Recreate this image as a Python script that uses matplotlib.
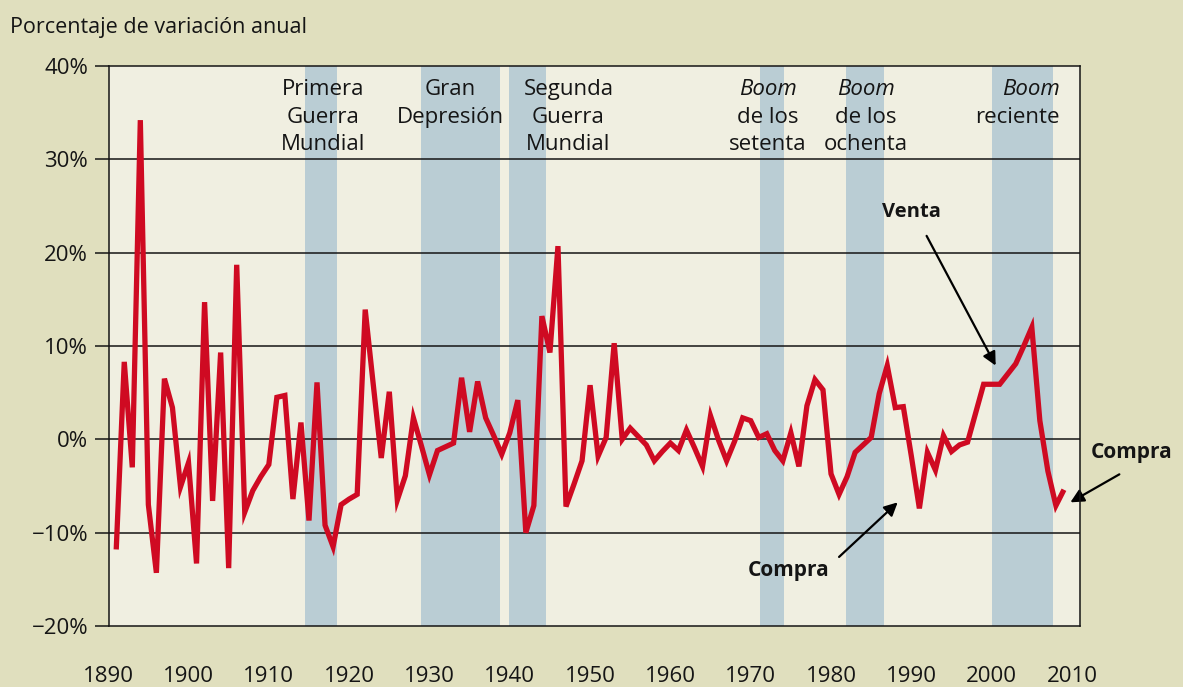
import numpy as np
import matplotlib
matplotlib.use("Agg")
import matplotlib.pyplot as plt
from matplotlib.transforms import ScaledTranslation

# ---------------- data ----------------
start_year = 1890
annual_change = [
    -11.8, 8.3, -3.0, 34.2, -7.0, -14.3, 6.5, 3.4, -5.1, -2.5,      # 1890-1899
    -13.3, 14.7, -6.6, 9.3, -13.8, 18.7, -7.8, -5.5, -4.0, -2.7,    # 1900-1909
    4.5, 4.7, -6.4, 1.8, -8.7, 6.1, -9.2, -11.5, -7.0, -6.4,        # 1910-1919
    -5.9, 13.9, 5.9, -2.0, 5.1, -6.5, -3.9, 2.3, -0.7, -3.8,        # 1920-1929
    -1.2, -0.8, -0.4, 6.6, 0.8, 6.2, 2.3, 0.4, -1.6, 0.7,           # 1930-1939
    4.2, -10.0, -7.1, 13.2, 9.3, 20.7, -7.2, -4.8, -2.3, 5.8,       # 1940-1949
    -1.8, 0.2, 10.3, 0.0, 1.2, 0.3, -0.6, -2.3, -1.3, -0.4,         # 1950-1959
    -1.2, 1.0, -0.9, -2.9, 2.5, -0.1, -2.3, -0.2, 2.3, 2.0,         # 1960-1969
    0.2, 0.6, -1.2, -2.3, 0.7, -2.9, 3.6, 6.4, 5.3, -3.7,           # 1970-1979
    -5.9, -4.0, -1.4, -0.6, 0.2, 4.9, 7.9, 3.4, 3.5, -1.8,          # 1980-1989
    -7.4, -1.4, -3.3, 0.4, -1.3, -0.6, -0.3, 2.8, 5.9, 5.9,         # 1990-1999
    5.9, 7.0, 8.1, 10.0, 12.0, 2.0, -3.4, -7.1, -5.4,               # 2000-2008
]
years = np.arange(start_year, start_year + len(annual_change))

# shaded periods (start, end) and their label lines
period_spans = [(1913.5, 1917.5), (1927.9, 1937.8), (1938.9, 1943.5),
                (1970.2, 1973.2), (1980.9, 1985.6), (1999.0, 2006.7)]
period_labels = [
    ["Primera", "Guerra", "Mundial"],
    ["Gran", "Depresión"],
    ["Segunda", "Guerra", "Mundial"],
    ["Boom", "de los", "setenta"],
    ["Boom", "de los", "ochenta"],
    ["Boom", "reciente"],
]
label_x = [1915.7, 1931.6, 1946.3, 1971.1, 1983.3, 2007.5]
label_align = ["center", "center", "center", "center", "center", "right"]

y_ticks = [-20, -10, 0, 10, 20, 30, 40]
y_ticklabels = ["\u221220%", "\u221210%", "0%", "10%", "20%", "30%", "40%"]
x_ticks = list(range(1890, 2011, 10))

# ---------------- style ----------------
OUTER = "#e0dfbe"
INNER = "#f0efe1"
BAND = "#bacdd4"
RED = "#cf0a22"
INK = "#151515"
FONT = "Open Sans"

plt.rcParams["font.family"] = [FONT, "DejaVu Sans"]

W, H, DPI = 1183, 687, 100
fig = plt.figure(figsize=(W / DPI, H / DPI), dpi=DPI, facecolor=OUTER)
ax = fig.add_axes([109 / W, 1 - 626 / H, (1080 - 109) / W, (626 - 66) / H])
ax.set_facecolor(INNER)

ax.set_xlim(1889.1, 2009.0)
ax.set_ylim(-20, 40)

for (a, b) in period_spans:
    ax.axvspan(a, b, color=BAND, lw=0, zorder=1)

for v in y_ticks[1:-1]:
    ax.axhline(v, color=INK, lw=1.1, zorder=2)

ax.plot(years, annual_change, color=RED, lw=3.8, zorder=3,
        solid_joinstyle="miter", solid_capstyle="butt")

for sp in ax.spines.values():
    sp.set_color(INK)
    sp.set_linewidth(1.1)
    sp.set_zorder(4)

ax.set_yticks(y_ticks)
ax.set_yticklabels(y_ticklabels)
ax.tick_params(axis="y", length=10, width=1.1, color=INK, pad=5,
               labelsize=16, labelcolor=INK)
ax.set_xticks(x_ticks)
ax.set_xticklabels([str(t) for t in x_ticks])
ax.tick_params(axis="x", length=0, pad=29, labelsize=16, labelcolor=INK)
shift = ScaledTranslation(-8 / DPI, 0, fig.dpi_scale_trans)
for lab in ax.get_xticklabels():
    lab.set_transform(lab.get_transform() + shift)

# period labels, line by line (baselines)
line_baselines = [36.9, 33.9, 31.0]
for lines, x, ha in zip(period_labels, label_x, label_align):
    for i, txt in enumerate(lines):
        style = "italic" if txt == "Boom" else "normal"
        ax.text(x, line_baselines[i], txt, ha=ha, va="baseline", fontsize=16,
                fontstyle=style, color=INK, zorder=5)

# annotations
arrow = dict(arrowstyle="-|>", color="black", lw=1.6, mutation_scale=20,
             shrinkA=0, shrinkB=0)
ax.text(1989.0, 23.8, "Venta", ha="center", va="baseline", fontsize=14.5,
        fontweight="bold", color=INK)
ax.annotate("", xy=(1999.5, 7.9), xytext=(1990.9, 21.8), arrowprops=arrow)
ax.text(1973.7, -14.6, "Compra", ha="center", va="baseline", fontsize=15,
        fontweight="bold", color=INK)
ax.annotate("", xy=(1987.3, -6.75), xytext=(1980.0, -12.6), arrowprops=arrow)
ax.text(2016.4, -2.0, "Compra", ha="center", va="baseline", fontsize=15,
        fontweight="bold", color=INK, clip_on=False)
ax.annotate("", xy=(2008.8, -6.75), xytext=(2014.9, -3.75), arrowprops=arrow,
            annotation_clip=False)

fig.text(10 / W, 1 - 33 / H, "Porcentaje de variación anual", ha="left",
         va="baseline", fontsize=15.5, color=INK)

fig.savefig("out.png", dpi=DPI, facecolor=OUTER)
